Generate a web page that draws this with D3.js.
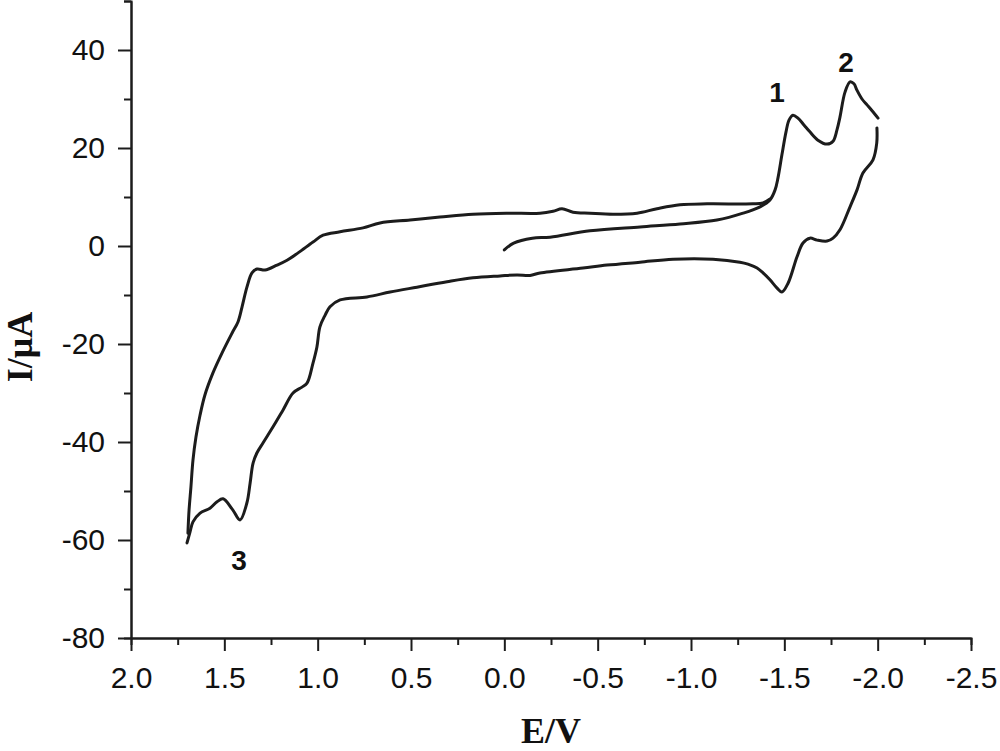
<!DOCTYPE html>
<html><head><meta charset="utf-8">
<script src="https://cdn.jsdelivr.net/npm/d3@7"></script>
<style>body{margin:0;background:#fff} svg{display:block}</style>
</head><body>
<svg id="c" width="1000" height="751"></svg>
<script>
// ---- data ----
const xMajorTicks = [2.0,1.5,1.0,0.5,0.0,-0.5,-1.0,-1.5,-2.0,-2.5];
const xMinorTicks = [1.75,1.25,0.75,0.25,-0.25,-0.75,-1.25,-1.75,-2.25];
const yMajorTicks = [-80,-60,-40,-20,0,20,40];
const yMinorTicks = [-70,-50,-30,-10,10,30,50];

// forward (cathodic) scan: 0 V -> -2.0 V  [E (V), I (µA)]
const forwardScan = [
  [0.00,-0.8],[-0.05,0.6],[-0.15,1.6],[-0.245,1.8],[-0.459,3.1],[-0.727,3.9],
  [-0.941,4.5],[-1.139,5.3],[-1.279,6.7],[-1.370,8.0],[-1.423,9.4],[-1.450,11.4],
  [-1.466,13.9],[-1.487,18.6],[-1.509,23.3],[-1.525,25.7],[-1.546,26.7],[-1.573,26.1],
  [-1.605,24.7],[-1.637,23.3],[-1.680,21.6],[-1.729,20.8],[-1.761,21.4],[-1.782,23.7],
  [-1.798,26.3],[-1.825,31.4],[-1.852,33.5],[-1.873,33.1],[-1.889,31.8],[-1.916,30.0],
  [-1.943,28.8],[-1.970,27.6],[-2.002,26.1]
];
// reverse (anodic) scan: -2.0 V -> +1.7 V
const reverseScan = [
  [-1.996,24.1],[-1.995,21.0],[-1.975,17.6],[-1.921,14.9],[-1.889,11.4],[-1.852,8.0],
  [-1.798,3.3],[-1.761,1.6],[-1.729,1.0],[-1.675,1.2],[-1.637,1.6],[-1.600,0.6],
  [-1.568,-2.2],[-1.520,-7.6],[-1.487,-9.4],[-1.461,-8.6],[-1.423,-6.9],[-1.386,-5.5],
  [-1.354,-4.5],[-1.305,-3.7],[-1.262,-3.3],[-1.118,-2.7],[-0.904,-2.7],[-0.727,-3.3],
  [-0.550,-3.9],[-0.421,-4.5],[-0.191,-5.5],[-0.138,-6.0],[-0.068,-5.9],[0.023,-6.1],
  [0.168,-6.5],[0.307,-7.3],[0.468,-8.4],[0.612,-9.4],[0.736,-10.4],[0.880,-11.0],
  [0.934,-12.4],[0.960,-14.1],[0.988,-16.5],[1.004,-20.6],[1.025,-23.9],[1.057,-28.0],
  [1.084,-28.8],[1.132,-30.0],[1.186,-33.5],[1.239,-36.9],[1.293,-40.2],[1.325,-42.2],
  [1.346,-44.3],[1.362,-48.4],[1.379,-52.4],[1.416,-55.9],[1.454,-53.9],[1.507,-51.6],
  [1.539,-52.2],[1.577,-53.5],[1.630,-54.5],[1.668,-56.3],[1.684,-58.4],[1.700,-60.6]
];
// second sweep: +1.7 V -> joins forward scan near -1.42 V
const returnScan = [
  [1.695,-58.6],[1.689,-53.9],[1.679,-49.2],[1.668,-43.7],[1.652,-39.0],[1.630,-34.5],
  [1.604,-30.4],[1.561,-25.9],[1.512,-21.8],[1.459,-17.8],[1.427,-15.5],[1.405,-12.4],
  [1.379,-8.4],[1.352,-5.5],[1.325,-4.7],[1.282,-4.9],[1.218,-3.9],[1.164,-2.9],
  [1.105,-1.4],[1.025,0.8],[0.971,2.2],[0.880,2.9],[0.757,3.7],[0.666,4.7],[0.505,5.3],
  [0.345,5.9],[0.168,6.5],[-0.014,6.7],[-0.191,6.7],[-0.261,7.1],[-0.309,7.6],
  [-0.368,6.9],[-0.459,6.7],[-0.582,6.5],[-0.711,6.7],[-0.818,7.6],[-0.941,8.4],
  [-1.086,8.6],[-1.332,8.6],[-1.386,8.8],[-1.423,9.6]
];
const peakLabels = [
  {text:"1", E:-1.461, I:29.4},
  {text:"2", E:-1.830, I:35.5},
  {text:"3", E:1.421, I:-66.1}
];

// ---- drawing ----
const svg = d3.select("#c");
const x = d3.scaleLinear().domain([2.0,-2.5]).range([131,971]);
const y = d3.scaleLinear().domain([-80,50]).range([638,1]);
const ink = "#1c1c1c";

function styleAxis(g){
  g.select(".domain").attr("stroke",ink).attr("stroke-width",2);
  g.selectAll(".tick line").attr("stroke",ink).attr("stroke-width",2);
  g.selectAll(".tick text").attr("fill","#111")
    .style("font-family","'Liberation Sans', Arial, sans-serif").style("font-size","30px");
}

svg.append("g").attr("transform","translate(0,638)")
  .call(d3.axisBottom(x).tickValues(xMinorTicks).tickSize(7).tickFormat(""))
  .call(styleAxis);
svg.append("g").attr("transform","translate(0,638)")
  .call(d3.axisBottom(x).tickValues(xMajorTicks).tickSize(13).tickSizeOuter(0).tickPadding(16).tickFormat(d3.format(".1f")))
  .call(styleAxis);
svg.append("g").attr("transform","translate(131,0)")
  .call(d3.axisLeft(y).tickValues(yMinorTicks).tickSize(7).tickFormat(""))
  .call(styleAxis);
svg.append("g").attr("transform","translate(131,0)")
  .call(d3.axisLeft(y).tickValues(yMajorTicks).tickSize(13).tickSizeOuter(0).tickPadding(13).tickFormat(d3.format("d")))
  .call(styleAxis);
svg.selectAll(".tick text").each(function(){ const t=d3.select(this); t.text(t.text().replace("\u2212","-")); });

const line = d3.line().x(d=>x(d[0])).y(d=>y(d[1])).curve(d3.curveCatmullRom.alpha(0.5));
[forwardScan, reverseScan, returnScan].forEach(s=>{
  svg.append("path").datum(s).attr("d",line)
    .attr("fill","none").attr("stroke",ink).attr("stroke-width",3)
    .attr("stroke-linejoin","round").attr("stroke-linecap","round");
});

svg.selectAll("text.peak").data(peakLabels).enter().append("text")
  .attr("class","peak").attr("x",d=>x(d.E)).attr("y",d=>y(d.I))
  .attr("text-anchor","middle").attr("fill","#111")
  .style("font-family","'Liberation Sans', Arial, sans-serif").style("font-weight","bold").style("font-size","28px")
  .text(d=>d.text);

svg.append("text").attr("x",551).attr("y",743).attr("text-anchor","middle")
  .style("font-family","'Liberation Serif','Times New Roman',serif").style("font-weight","bold").style("font-size","36px")
  .attr("fill","#111").text("E/V");
svg.append("text").attr("transform","translate(32,347) rotate(-90)").attr("text-anchor","middle")
  .style("font-family","'Liberation Serif','Times New Roman',serif").style("font-weight","bold").style("font-size","36px")
  .attr("fill","#111").text("I/\u03bcA");
</script>
</body></html>
